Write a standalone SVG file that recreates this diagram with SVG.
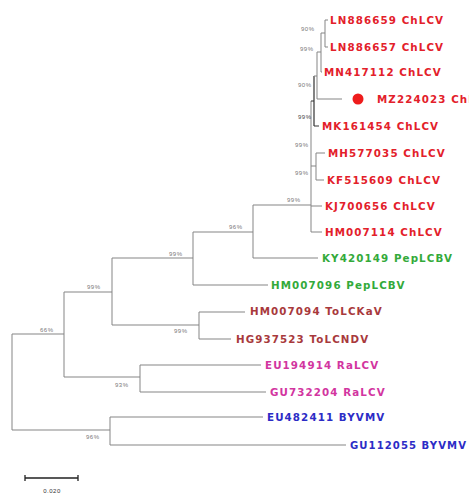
<svg xmlns="http://www.w3.org/2000/svg" width="469" height="494" viewBox="0 0 469 494">
<style>
.br{fill:none;stroke:#858585;stroke-width:1}
.dk{fill:none;stroke:#333;stroke-width:1.2}
.lf{font-family:"DejaVu Sans","Liberation Sans",sans-serif;font-weight:bold;font-size:10.3px;letter-spacing:1.1px}
.bs{font-family:"Liberation Sans",Arial,sans-serif;font-size:6px;fill:#777;letter-spacing:0.5px}
.ch{fill:#e3202a}.pe{fill:#33aa3a}.to{fill:#a8393c}.ra{fill:#d2359f}.by{fill:#2c2cc6}
</style>
<rect width="469" height="494" fill="#fff"/>
<g id="connectors">
<path class="br" d="M12,334V430M12,334H64M12,430H110"/>
<path class="br" d="M110,417V445M110,417H263M110,445H346"/>
<path class="br" d="M64,292V377M64,292H112M64,377H140"/>
<path class="br" d="M140,365V392M140,365H261M140,392H266"/>
<path class="br" d="M112,258V325M112,258H193M112,325H199"/>
<path class="br" d="M199,312V339M199,312H245M199,339H231"/>
<path class="br" d="M193,232V285M193,232H253M193,285H268"/>
<path class="br" d="M253,205V258M253,205H311M253,258H318"/>
<path class="br" d="M311,101V232M311,206H322M311,232H322M311,166H316"/>
<path class="br" d="M316,153V180M316,153H325M316,180H324"/>
<path class="dk" d="M314,76V126M311,101H314M314,126H319"/>
<path class="br" d="M317,52V99M314,76H317M317,99H342"/>
<path class="br" d="M321,33V72M317,52H321M321,72H322"/>
<path class="br" d="M325,20V47M321,33H325M325,20H328M325,47H328"/>
<path stroke="#222" stroke-width="1.3" d="M25,478H78M25,475V481M78,475V481"/>
</g>
<g id="support">
<text class="bs" x="301" y="31">90%</text>
<text class="bs" x="300" y="51">99%</text>
<text class="bs" x="298" y="87">90%</text>
<text class="bs" x="298" y="119" style="fill:#444">99%</text>
<text class="bs" x="295" y="147">99%</text>
<text class="bs" x="295" y="175">99%</text>
<text class="bs" x="287" y="202">99%</text>
<text class="bs" x="229" y="229">96%</text>
<text class="bs" x="169" y="256">99%</text>
<text class="bs" x="87" y="289">99%</text>
<text class="bs" x="40" y="332">66%</text>
<text class="bs" x="174" y="333">99%</text>
<text class="bs" x="115" y="387">93%</text>
<text class="bs" x="86" y="439">96%</text>
<text class="bs" x="52" y="493" text-anchor="middle" style="fill:#333">0.020</text>
</g>
<g id="LN886659"><text class="lf ch" x="330" y="24">LN886659 ChLCV</text></g>
<g id="LN886657"><text class="lf ch" x="330" y="51">LN886657 ChLCV</text></g>
<g id="MN417112"><text class="lf ch" x="324" y="76">MN417112 ChLCV</text></g>
<g id="MZ224023"><circle cx="358" cy="99" r="5.5" fill="#ee1c1c"/><text class="lf ch" x="377" y="103">MZ224023 ChLCV</text></g>
<g id="MK161454"><text class="lf ch" x="322" y="130">MK161454 ChLCV</text></g>
<g id="MH577035"><text class="lf ch" x="328" y="157">MH577035 ChLCV</text></g>
<g id="KF515609"><text class="lf ch" x="327" y="184">KF515609 ChLCV</text></g>
<g id="KJ700656"><text class="lf ch" x="325" y="210">KJ700656 ChLCV</text></g>
<g id="HM007114"><text class="lf ch" x="325" y="236">HM007114 ChLCV</text></g>
<g id="KY420149"><text class="lf pe" x="322" y="262">KY420149 PepLCBV</text></g>
<g id="HM007096"><text class="lf pe" x="271" y="289">HM007096 PepLCBV</text></g>
<g id="HM007094"><text class="lf to" x="250" y="315">HM007094 ToLCKaV</text></g>
<g id="HG937523"><text class="lf to" x="236" y="343">HG937523 ToLCNDV</text></g>
<g id="EU194914"><text class="lf ra" x="265" y="369">EU194914 RaLCV</text></g>
<g id="GU732204"><text class="lf ra" x="270" y="396">GU732204 RaLCV</text></g>
<g id="EU482411"><text class="lf by" x="267" y="421">EU482411 BYVMV</text></g>
<g id="GU112055"><text class="lf by" x="350" y="449" textLength="117" lengthAdjust="spacingAndGlyphs">GU112055 BYVMV</text></g>
</svg>
